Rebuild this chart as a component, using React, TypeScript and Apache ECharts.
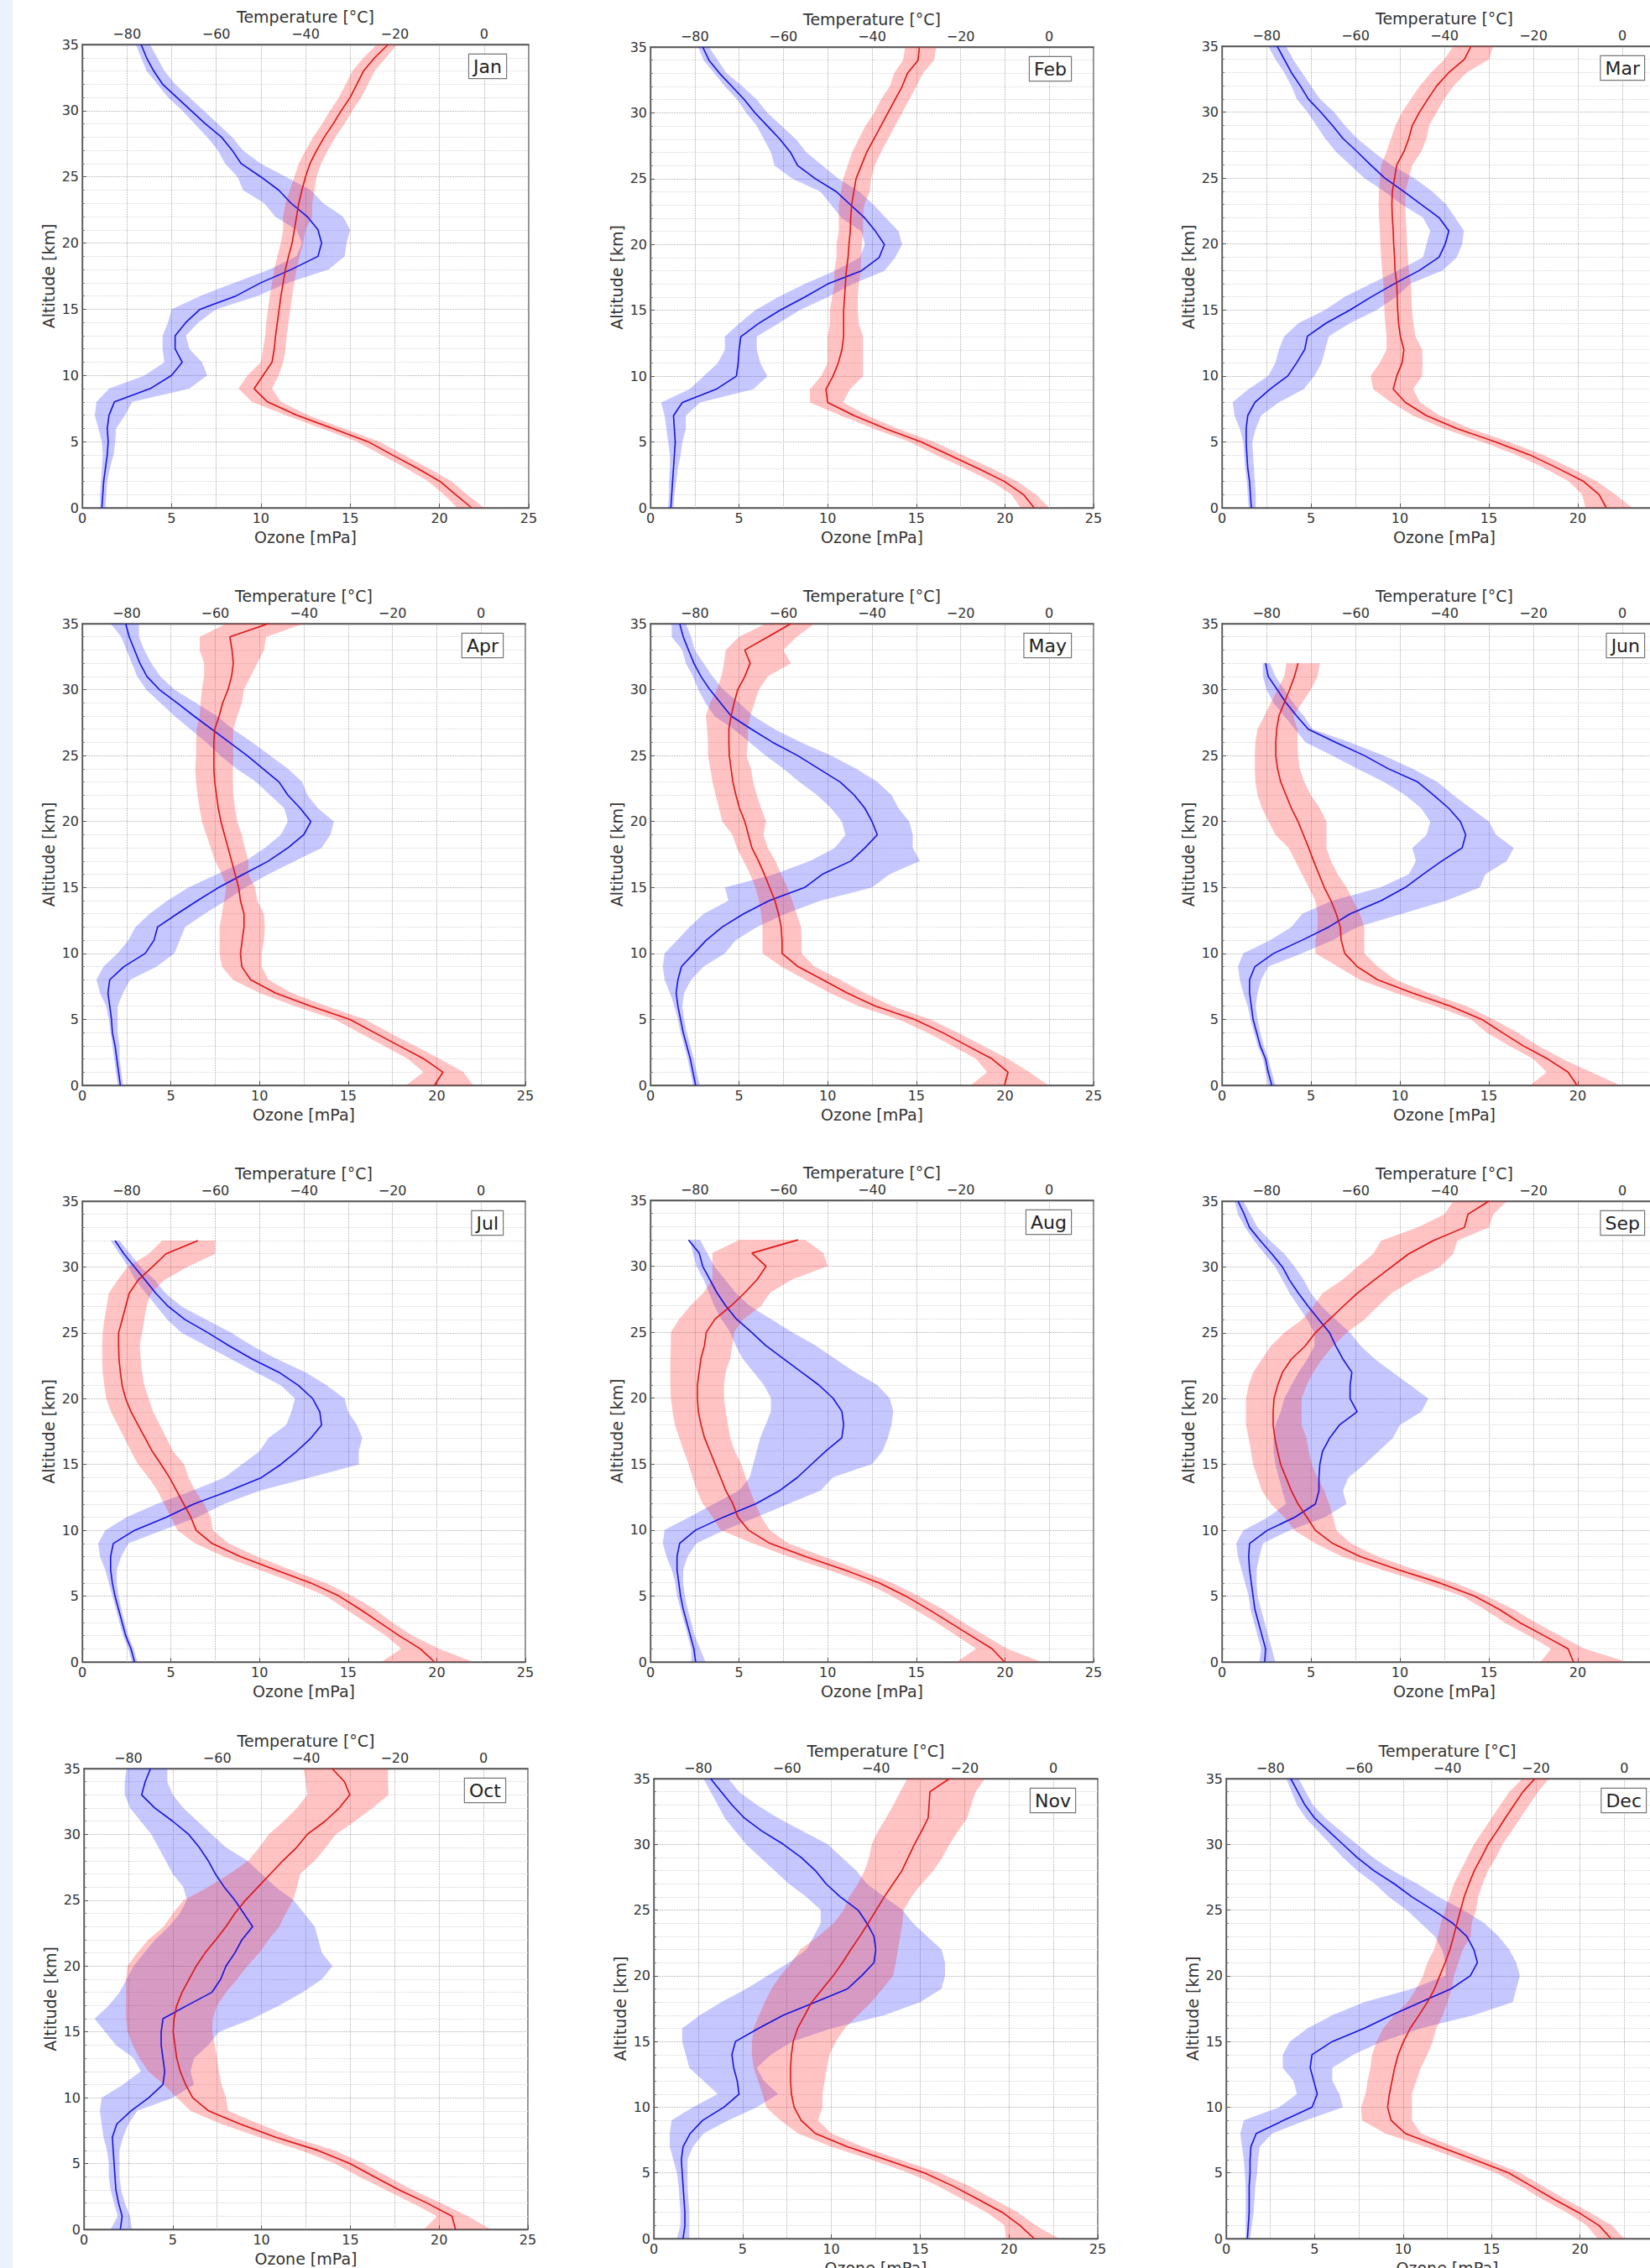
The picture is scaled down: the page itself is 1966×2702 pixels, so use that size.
import React, { useEffect, useRef } from 'react';
import * as echarts from 'echarts';

// Altitude levels [km]
const ALT = [0,1,2,3,4,5,6,7,8,9,10,11,12,13,14,15,16,17,18,19,20,21,22,23,24,25,26,27,28,29,30,31,32,33,34,35];

// Temperature tick labels shown on the top axis
const TEMP_TICKS = [-80,-60,-40,-20,0];

// ---------- JAN ----------
const OZ_MEAN_JAN = [1.1,1.15,1.2,1.3,1.4,1.45,1.4,1.5,1.8,3.8,5.0,5.6,5.2,5.2,5.8,6.6,8.6,10.0,11.7,13.2,13.4,13.2,12.6,11.7,11.0,10.0,8.9,8.4,7.8,6.9,6.1,5.3,4.5,4.0,3.6,3.3];
const OZ_LO_JAN = [1.0,1.0,1.05,1.1,1.15,1.1,0.9,0.7,0.8,1.5,3.5,4.6,4.5,4.5,4.8,5.0,6.6,8.5,10.5,12.0,12.3,12.0,10.8,10.2,9.0,8.7,8.0,7.6,7.0,6.3,5.6,4.8,4.2,3.6,3.3,3.0];
const OZ_HI_JAN = [1.3,1.35,1.4,1.55,1.75,1.85,1.9,2.4,2.8,6.0,7.0,6.7,6.0,5.8,6.5,7.5,9.8,11.5,13.8,14.7,14.8,15.0,14.6,13.5,12.8,11.4,10.0,9.0,8.4,7.6,6.8,6.0,5.2,4.6,4.2,3.8];
const T_MEAN_JAN = [-2.8,-6.4,-9.9,-15,-20.6,-26,-34,-42,-48.5,-51.5,-49.5,-47.5,-47,-46.7,-46.3,-45.9,-45.5,-45,-44.5,-43.8,-43,-42.5,-42,-41.5,-40.8,-40,-39,-37.5,-35.8,-33.8,-32,-30,-28.5,-27,-24.5,-21.5];
const T_LO_JAN = [-6,-9,-12.5,-17.5,-23,-28.5,-36.5,-44.5,-52,-55,-53,-50,-49.5,-49,-48.8,-48.4,-48,-47.5,-47,-46.3,-45.5,-45,-45,-44.5,-43.5,-42.5,-41.5,-40,-38.3,-36.3,-34.5,-32.5,-31,-29.5,-27,-24];
const T_HI_JAN = [0,-3.8,-7.3,-12.5,-18,-23.5,-31.5,-39.5,-45.5,-47.5,-46,-45,-44.5,-44.2,-43.8,-43.4,-43,-42.5,-42,-41.3,-40.5,-40,-38.5,-38.5,-38,-37.5,-36.5,-35,-33.3,-31.3,-29.5,-27.5,-26,-24.5,-22,-19.5];

// ---------- FEB ----------
const OZ_MEAN_FEB = [1.15,1.2,1.25,1.3,1.35,1.4,1.35,1.3,1.8,3.7,4.85,4.95,5.0,5.1,6.1,7.3,8.7,10.0,11.9,12.9,13.2,12.7,12.1,11.3,10.5,9.3,8.3,7.9,7.3,6.6,5.9,5.3,4.6,3.9,3.3,2.95];
const OZ_LO_FEB = [1.0,1.05,1.05,1.1,1.1,1.0,0.9,0.8,0.6,2.2,3.0,3.8,4.2,4.2,5.0,5.9,7.2,8.7,10.4,11.8,12.1,11.9,10.8,10.2,9.6,8.0,7.0,6.8,6.4,6.0,5.4,4.9,4.2,3.6,3.0,2.7];
const OZ_HI_FEB = [1.3,1.35,1.45,1.55,1.7,1.8,2.0,2.0,2.8,5.8,6.6,6.2,6.0,6.0,7.2,8.4,10.0,11.4,13.2,13.8,14.2,14.0,13.3,12.6,11.8,10.6,9.7,8.8,8.2,7.4,6.6,6.0,5.2,4.3,3.8,3.3];
const T_MEAN_FEB = [-3.4,-5.8,-10.1,-16.1,-22.5,-28.9,-36.8,-44,-50,-50.4,-48.8,-47.6,-46.8,-46.4,-46.4,-46.4,-46.2,-46,-45.8,-45.4,-45.2,-44.9,-44.8,-44.6,-44.1,-43.6,-42.4,-41.2,-39.6,-38,-36.4,-34.8,-33.2,-32,-29.6,-29.3];
const T_LO_FEB = [-6.5,-8.5,-13,-19,-25.5,-31.5,-39.5,-47,-54,-54,-51.5,-50,-50,-50,-49.5,-49.5,-49,-48.5,-48.5,-48,-48,-47.5,-47.5,-47.5,-47,-46.5,-45.5,-44.5,-43,-41.5,-39.5,-38,-36,-35,-33,-32.5];
const T_HI_FEB = [0,-3,-7.2,-13,-19.5,-26,-34,-41,-46.5,-45,-42,-42,-42,-42,-43,-43.2,-43.2,-43,-42.5,-42.5,-42.3,-42,-42,-41.8,-40.5,-40.2,-39.4,-38,-36.4,-34.8,-33.2,-31.6,-30,-28.5,-26,-25.5];

// ---------- MAR ----------
const OZ_MEAN_MAR = [1.65,1.6,1.55,1.45,1.4,1.36,1.36,1.45,1.85,2.7,3.7,4.2,4.65,4.8,5.85,7.2,8.4,9.7,11.1,12.2,12.55,12.75,12.2,11.2,10.2,9.15,8.35,7.6,6.8,6.2,5.55,4.85,4.4,3.9,3.5,3.1];
const OZ_LO_MAR = [1.5,1.45,1.4,1.3,1.25,1.2,1.0,0.7,0.6,1.5,2.6,3.0,3.2,3.5,4.3,5.8,6.9,8.4,9.9,11.3,11.5,11.7,11.3,10.1,9.1,8.0,7.2,6.4,5.8,5.3,4.8,4.2,3.9,3.5,3.0,2.6];
const OZ_HI_MAR = [1.9,1.9,1.85,1.8,1.75,1.7,1.9,2.2,3.2,4.6,5.2,5.6,5.8,6.0,7.2,8.7,9.8,10.6,12.4,13.2,13.5,13.6,13.1,12.6,11.8,10.8,9.5,8.5,7.6,6.9,6.3,5.5,5.0,4.5,4.0,3.6];
const T_MEAN_MAR = [-3.6,-5.2,-8.7,-14.5,-20.7,-28.5,-37.1,-44.1,-48.8,-51.5,-50.7,-49.5,-49.1,-49.9,-50.3,-50.5,-50.6,-50.7,-51.1,-51.2,-51.4,-51.5,-51.7,-51.8,-51.7,-51.2,-50.7,-49.1,-48,-47.2,-45.6,-43.7,-41.7,-39,-35.5,-34];
const T_LO_MAR = [-8.3,-9,-12,-17.5,-23.7,-31.5,-40.1,-47.1,-52,-56,-56.6,-54.5,-53,-53,-53.3,-53.5,-53.6,-53.7,-54,-54.2,-54.4,-54.5,-54.7,-54.8,-54.7,-54.5,-54.2,-53,-52,-51,-49.5,-47.5,-45.5,-43,-40,-38];
const T_HI_MAR = [2.2,-1.5,-5.7,-11.5,-17.7,-25.5,-34.1,-41.1,-45.5,-47,-45,-44.9,-45,-46.5,-47,-47.3,-47.4,-47.5,-48,-48.2,-48.4,-48.5,-48.7,-48.8,-48.7,-48,-47.2,-45.2,-44,-43.4,-41.7,-40,-37.9,-35,-30,-29];

// ---------- APR ----------
const OZ_MEAN_APR = [2.15,2.05,1.95,1.85,1.7,1.65,1.55,1.45,1.55,2.35,3.55,4.05,4.25,5.35,6.5,7.7,9.1,10.5,11.6,12.5,12.9,12.3,11.6,11.1,10.2,9.3,8.3,7.3,6.3,5.35,4.35,3.65,3.25,2.95,2.65,2.45];
const OZ_LO_APR = [2.0,1.9,1.8,1.7,1.6,1.5,1.35,1.0,0.8,1.2,2.0,2.6,3.0,3.8,4.8,6.0,7.6,9.2,10.3,11.2,11.6,11.4,10.6,9.8,8.7,7.8,7.0,6.1,5.2,4.4,3.6,3.1,2.8,2.5,2.2,1.6];
const OZ_HI_APR = [2.3,2.2,2.1,2.1,2.0,2.0,2.0,2.3,2.7,4.2,5.2,5.5,5.8,6.9,8.1,9.2,10.5,12.0,13.5,14.0,14.2,13.3,12.7,12.4,11.6,10.6,9.6,8.5,7.6,6.4,5.2,4.4,3.9,3.5,3.2,3.2];
const T_MEAN_APR = [-10.5,-8.6,-12.9,-18.5,-24.1,-29.6,-38.4,-46.4,-52,-54,-54.3,-53.9,-53.5,-53.5,-54.3,-54.7,-55.5,-56.3,-57.1,-57.9,-58.7,-59.3,-59.7,-60.1,-60.3,-60.3,-60.3,-60.1,-59.1,-58.3,-57.1,-56.3,-55.9,-56.2,-56.7,-48];
const T_LO_APR = [-16.9,-13,-16.5,-22,-27.5,-33,-42,-50,-56,-58.5,-59,-59,-59,-58.5,-58,-57.5,-58.5,-60,-61,-62,-63,-63.5,-64,-64.3,-64.5,-64.3,-64.3,-64.2,-63.5,-63.3,-63,-62.5,-62.5,-63.5,-63.5,-57.5];
const T_HI_APR = [-1.8,-4,-9.3,-15,-20.7,-26.2,-34.8,-42.8,-48,-49.5,-49.5,-49,-48.8,-49,-50.5,-51,-52.5,-52.5,-53.3,-54,-55,-55.5,-55.9,-56,-56,-55.9,-56,-55.9,-55,-54,-53.5,-52,-50.5,-49,-48.5,-40];

// ---------- MAY ----------
const OZ_MEAN_MAY = [2.55,2.4,2.25,2.05,1.85,1.7,1.55,1.45,1.55,1.75,2.45,3.15,4.05,5.25,6.7,8.7,9.7,11.3,12.1,12.8,12.5,12.1,11.5,10.7,9.5,8.3,6.9,5.7,4.55,3.95,3.35,2.85,2.45,2.15,1.85,1.65];
const OZ_LO_MAY = [2.4,2.25,2.1,1.9,1.7,1.55,1.35,1.1,0.8,0.7,0.8,1.5,2.2,3.0,4.4,4.2,7.0,9.0,10.4,11.0,10.8,10.2,9.4,8.4,7.5,6.5,5.6,4.7,3.6,3.1,2.7,2.4,2.0,1.8,1.2,1.2];
const OZ_HI_MAY = [2.8,2.6,2.45,2.25,2.05,1.9,1.8,1.9,2.3,3.0,4.2,4.8,6.0,7.6,9.6,12.5,13.5,15.2,14.8,14.8,14.6,14.0,13.6,12.8,11.6,10.2,8.5,7.0,5.8,5.0,4.1,3.5,3.0,2.5,2.3,2.0];
const T_MEAN_MAY = [-10.1,-9.3,-12.9,-18.5,-24.1,-30.4,-39.2,-45.6,-51.1,-56.7,-60.3,-60.3,-60.5,-61.1,-61.9,-63.1,-64.3,-65.6,-67.1,-67.9,-68.7,-69.9,-70.7,-71.4,-71.8,-72.2,-72.3,-72.3,-71.8,-71.1,-70.3,-68.7,-67.5,-68.7,-63.5,-58.3];
const T_LO_MAY = [-17.7,-14,-16.5,-22,-27.5,-34,-43,-49.5,-55,-60.5,-64.7,-64.7,-64.7,-65,-65.5,-66.3,-67.5,-69,-70.5,-71.5,-73.8,-74.5,-75.3,-76,-76.5,-77,-77,-77.2,-77.5,-76.5,-75,-74,-73.4,-73,-70,-64];
const T_HI_MAY = [-0.2,-4.5,-9.3,-15,-20.7,-26.8,-35.4,-41.7,-47.2,-53,-55.9,-55.9,-56,-57,-58,-59.1,-60.5,-61.8,-63.5,-64.5,-63.9,-65,-66,-66.8,-67.3,-68.3,-68,-68,-67.5,-66.5,-65.5,-63.5,-58.3,-60,-57,-53];

// ---------- JUN ----------
const OZ_MEAN_JUN = [2.8,2.6,2.45,2.15,1.95,1.75,1.65,1.55,1.55,1.85,2.9,4.5,6.0,7.2,8.95,10.3,11.3,12.35,13.5,13.7,13.4,12.75,11.9,11.0,9.35,8.0,6.4,4.85,4.2,3.6,3.1,2.6,2.45,null,null,null];
const OZ_LO_JUN = [2.6,2.45,2.3,2.0,1.8,1.6,1.45,1.2,1.0,0.9,1.2,2.7,3.9,4.5,6.2,8.9,10.5,10.9,10.7,11.5,11.7,11.2,10.3,9.1,7.6,6.2,4.7,4.1,3.5,2.9,2.5,2.3,2.3,null,null,null];
const OZ_HI_JUN = [3.0,2.8,2.6,2.35,2.15,2.0,1.9,2.0,2.2,2.6,4.5,6.2,7.6,10.1,12.6,14.5,14.8,16.0,16.4,15.4,15.0,14.0,13.0,12.1,10.7,9.1,7.2,5.1,4.6,4.0,3.5,3.0,2.7,null,null,null];
const T_MEAN_JUN = [-10.2,-12.2,-16.8,-22.3,-27,-31.6,-38.6,-47.2,-55,-59.6,-62.4,-63.2,-63.4,-64.3,-65.5,-67,-68.2,-69.4,-70.5,-71.7,-72.9,-74.4,-75.6,-76.8,-77.5,-77.9,-77.9,-77.7,-77.2,-76,-74.8,-73.7,-72.9,null,null,null];
const T_LO_JUN = [-20.7,-17,-20,-25.5,-30.5,-34,-42,-51,-59,-64,-69,-69,-68.5,-68.5,-69,-70.5,-72,-73.5,-75,-78,-79.5,-81,-82,-82.5,-82.6,-82.6,-82.5,-82,-80.5,-79,-77.5,-76,-75.5,null,null,null];
const T_HI_JUN = [-0.5,-7,-13.5,-19,-23.5,-29,-35,-43.5,-51,-55,-58,-58,-58,-59,-60.5,-62,-64,-65.5,-66.5,-66.5,-66.5,-68,-70,-71.5,-72.5,-72.9,-73,-73,-74,-72,-70,-68.5,-68,null,null,null];

// ---------- JUL ----------
const OZ_MEAN_JUL = [2.95,2.75,2.45,2.25,2.05,1.85,1.7,1.6,1.6,1.75,2.95,4.75,6.3,8.3,10.1,11.2,12.1,12.9,13.5,13.4,13.0,12.2,11.1,9.6,8.3,7.1,5.8,4.85,4.15,3.55,2.95,2.35,1.85,null,null,null];
const OZ_LO_JUL = [2.8,2.6,2.3,2.1,1.9,1.7,1.5,1.3,1.0,0.9,1.3,2.5,4.2,6.2,8.0,9.0,10.0,10.5,11.5,11.8,12.0,11.2,9.8,8.4,7.0,5.6,4.8,4.2,3.6,3.0,2.6,2.1,1.6,null,null,null];
const OZ_HI_JUL = [3.1,2.9,2.6,2.4,2.2,2.05,1.95,1.95,2.2,2.6,4.5,6.5,8.0,10.0,12.8,15.6,15.6,15.8,15.5,15.0,14.8,13.8,12.6,11.0,9.6,8.4,7.0,5.6,4.7,4.1,3.3,2.7,2.1,null,null,null];
const T_MEAN_JUL = [-10.5,-13.7,-18.5,-22.9,-27.3,-32,-38.4,-46.4,-54.3,-60.7,-64.3,-65.5,-67.1,-68.7,-70.3,-72.2,-74.2,-75.8,-77.4,-79,-80.2,-81,-81.4,-81.7,-81.8,-81.8,-81,-80.2,-79.4,-77.4,-74.2,-71.1,-63.9,null,null,null];
const T_LO_JUL = [-22.5,-18,-21.5,-26,-30.5,-35,-42,-50,-58,-64.5,-68.5,-70,-71.5,-73,-75,-77.4,-79,-80.5,-82,-83.5,-84.6,-85,-85.4,-85.5,-85.5,-85.4,-85,-84.5,-84,-82,-79.8,-75,-72,null,null,null];
const T_HI_JUL = [-1.8,-9.5,-15.5,-20,-24,-29,-35,-43,-50.5,-57,-60.5,-61,-62.5,-64.5,-66,-67,-69.5,-71,-72.5,-74,-75,-76,-76.5,-76.8,-77,-76.5,-76,-75.5,-74.5,-71.5,-66.3,-60,-60,null,null,null];

// ---------- AUG ----------
const OZ_MEAN_AUG = [2.55,2.45,2.25,2.05,1.85,1.7,1.6,1.5,1.5,1.65,2.55,4.15,5.95,7.3,8.3,9.1,9.9,10.8,10.9,10.8,10.3,9.5,8.5,7.5,6.5,5.7,4.85,4.25,3.75,3.35,2.95,2.75,2.15,null,null,null];
const OZ_LO_AUG = [2.3,2.3,2.1,1.9,1.7,1.5,1.4,1.2,0.9,0.7,0.8,2.2,3.6,5.0,5.6,5.8,6.0,6.2,6.5,6.8,6.8,6.4,5.8,5.2,4.8,4.5,4.0,3.6,3.3,3.0,2.6,2.4,2.2,null,null,null];
const OZ_HI_AUG = [3.1,2.8,2.5,2.3,2.1,1.95,1.85,1.85,2.1,2.6,4.2,6.0,7.8,9.6,10.3,12.5,13.1,13.4,13.6,13.7,13.5,12.8,11.5,10.4,9.3,8.0,6.8,5.6,4.8,4.2,3.6,3.2,2.8,null,null,null];
const T_MEAN_AUG = [-10.1,-12.9,-17.7,-22.5,-27.3,-32.4,-38.4,-46.4,-55.1,-63.1,-67.9,-70.3,-71.4,-73,-74.2,-75.4,-76.6,-77.8,-78.6,-79.2,-79.4,-79.4,-79,-78.6,-77.8,-77.4,-75.4,-71.8,-68.7,-65.9,-63.9,-67.1,-56.7,null,null,null];
const T_LO_AUG = [-20.9,-16.5,-21,-25.5,-30.5,-35.5,-41.5,-50,-59,-67,-74.2,-76,-78.2,-79.5,-80.5,-81.4,-82.5,-83.5,-84.5,-85,-85.4,-85.5,-85.5,-85.5,-85.4,-85.4,-83.5,-81,-78,-76,-76,-76,-70,null,null,null];
const T_HI_AUG = [-1.8,-9.5,-14.5,-19.5,-24,-29.5,-35.5,-43,-51,-59,-63.1,-65,-66.3,-67.5,-68.5,-69.5,-71,-72,-72.5,-73,-73.4,-73.4,-73,-72,-71.5,-71.1,-69,-65,-63,-58,-50,-51,-55,null,null,null];

// ---------- SEP ----------
const OZ_MEAN_SEP = [2.4,2.45,2.25,2.05,1.85,1.75,1.65,1.55,1.5,1.55,2.55,4.1,5.25,5.45,5.45,5.5,5.65,6.05,6.6,7.6,7.2,7.2,7.3,6.8,6.4,6.05,5.45,4.85,4.3,3.8,3.4,2.8,2.15,1.55,1.25,0.9];
const OZ_LO_SEP = [2.1,2.2,2.0,1.8,1.6,1.5,1.3,1.1,0.9,0.8,1.2,2.6,3.6,3.4,3.2,3.0,2.9,2.9,3.0,3.3,3.5,3.9,4.3,4.8,5.2,5.2,4.8,4.3,3.8,3.4,3.0,2.4,1.8,1.3,0.9,0.7];
const OZ_HI_SEP = [3.0,2.8,2.6,2.4,2.2,2.0,1.95,1.95,2.1,2.3,3.8,5.8,7.0,6.8,7.1,8.0,8.8,9.6,10.0,11.2,11.6,10.6,9.6,8.6,7.8,7.2,6.4,5.6,5.0,4.6,4.1,3.5,2.7,2.0,1.6,1.2];
const T_MEAN_SEP = [-11,-12.2,-17.6,-23.1,-27.7,-33.2,-41,-50.3,-58.9,-65.1,-69,-70.9,-72.9,-74.4,-75.6,-76.8,-77.5,-78.1,-78.5,-78.5,-78.3,-77.5,-76.4,-74.4,-71.3,-69,-65.9,-62.8,-59.6,-55.8,-51.9,-48,-42.5,-35.5,-34.7,-30];
const T_LO_SEP = [-18.4,-16,-21,-26.5,-31,-36,-44.5,-54,-63,-69,-73.7,-76,-79,-81,-82,-83,-83.5,-84,-84.6,-84.6,-84.6,-84,-83,-81,-79,-76,-72,-69.5,-67.4,-63,-59.6,-56,-54.2,-46,-40,-38];
const T_HI_SEP = [1,-8.5,-14,-19.5,-24.5,-30.5,-37.5,-46.5,-55,-61,-64.3,-65,-65.9,-67,-68.5,-69.8,-70.5,-71,-72.1,-72.1,-72.1,-71,-69.5,-67.5,-65,-62,-58,-55,-51.9,-47,-41,-38,-37.1,-30,-29,-26];

// ---------- OCT ----------
const OZ_MEAN_OCT = [2.05,2.15,1.95,1.8,1.75,1.7,1.65,1.6,1.85,2.65,3.65,4.45,4.55,4.45,4.35,4.35,4.45,5.8,7.2,7.7,8.0,8.5,8.9,9.5,9.0,8.5,7.9,7.4,7.0,6.5,5.9,5.0,4.0,3.25,3.45,3.75];
const OZ_LO_OCT = [1.5,1.9,1.7,1.5,1.4,1.4,1.3,1.1,1.0,0.9,1.0,2.2,3.2,2.8,1.8,1.2,0.6,1.4,2.0,2.4,2.8,3.4,4.0,4.8,5.4,5.8,5.6,5.0,4.6,4.2,3.8,3.2,2.6,2.3,2.3,2.4];
const OZ_HI_OCT = [2.7,2.6,2.3,2.1,2.0,2.0,2.0,2.2,2.5,3.0,5.0,6.2,6.0,6.2,7.0,7.6,9.5,11.0,12.3,13.4,14.0,13.4,13.2,13.0,12.4,11.8,10.8,10.0,9.2,8.0,7.2,6.4,5.6,5.0,4.7,4.7];
const T_MEAN_OCT = [-6.3,-7.1,-12.7,-19,-24.6,-30.1,-37.3,-46.8,-54.8,-61.9,-65.5,-67.1,-68.3,-69.1,-69.5,-69.9,-69.7,-69.1,-67.9,-66.3,-64.7,-62.7,-60.3,-58,-56,-53.6,-50.8,-48,-45.2,-42.1,-39.7,-35.7,-32.5,-30.1,-31.3,-34.1];
const T_LO_OCT = [-13.4,-10.5,-16,-22,-28,-33.5,-41,-50.5,-59,-66,-69,-72,-75.5,-77.5,-79,-80.2,-80.5,-80.5,-80.5,-80.5,-80.2,-78,-75.5,-72,-70,-67.5,-62,-57.2,-53,-50.5,-48.4,-45,-42,-39.7,-40,-40.5];
const T_HI_OCT = [1.6,-3.5,-9.5,-16,-21.5,-27,-33.5,-43,-50.5,-57.5,-58,-59,-59.6,-60,-60.5,-61.1,-61,-60,-58,-55.5,-53.2,-50.5,-48.4,-46,-44.5,-42.9,-42,-41.3,-38,-35.5,-33.3,-29,-25,-21.4,-21.5,-21.5];

// ---------- NOV ----------
const OZ_MEAN_NOV = [1.65,1.75,1.75,1.7,1.65,1.6,1.55,1.65,2.05,2.75,3.95,4.8,4.7,4.5,4.4,4.6,5.9,7.3,9.1,10.9,11.7,12.4,12.5,12.4,12.0,11.5,10.5,9.7,9.1,8.3,7.3,6.1,5.1,4.4,3.8,3.2];
const OZ_LO_NOV = [1.3,1.5,1.5,1.45,1.4,1.3,1.1,0.9,0.9,1.0,2.2,3.6,2.8,2.0,1.8,1.6,1.6,2.6,3.8,5.2,6.4,7.6,8.6,9.0,9.4,9.4,8.6,7.6,6.8,6.0,5.2,4.6,4.0,3.6,3.2,2.8];
const OZ_HI_NOV = [2.0,2.0,2.0,1.95,1.9,1.9,1.9,2.2,2.8,4.2,5.8,7.0,6.2,5.8,6.6,7.8,10.0,13.0,15.0,16.2,16.4,16.4,16.2,15.4,14.6,14.0,13.0,12.0,11.4,10.6,9.8,8.4,7.0,5.8,4.8,4.2];
const T_MEAN_NOV = [-4.3,-7.5,-11.5,-17,-22.6,-29,-37.7,-46.4,-53.6,-56.8,-58.4,-59,-59.2,-59.2,-59,-58.6,-57.6,-56,-54.4,-52,-49.6,-47.5,-45.6,-43.6,-41.7,-39.9,-38.1,-36.1,-34.1,-32.7,-31.3,-29.7,-28.2,-28,-27.8,-23.4];
const T_LO_NOV = [-10.7,-11,-15,-20.5,-26,-32.5,-41,-50,-57.5,-61.5,-64.7,-65.5,-66.5,-67.5,-67.9,-67.9,-67.5,-66.3,-65,-63.5,-61.5,-59,-57,-53,-49.5,-47.2,-46,-44,-42.5,-41.5,-40.9,-39.5,-37.7,-36,-34.5,-32.9];
const T_HI_NOV = [1.3,-4,-8,-13.5,-19,-25.5,-34.5,-43,-50,-53,-52,-52,-51.5,-51,-50.4,-49,-47,-44,-41,-38.5,-36.1,-35.5,-35,-34.5,-34,-33.7,-32,-29.7,-27,-25,-23.4,-21.5,-19.4,-18.5,-17.5,-15.4];

// ---------- DEC ----------
const OZ_MEAN_DEC = [1.2,1.25,1.3,1.3,1.3,1.35,1.35,1.4,1.7,3.25,4.85,5.15,4.95,4.75,4.85,6.0,7.8,9.35,11.0,12.7,13.8,14.2,14.0,13.6,12.8,11.7,10.5,9.5,8.35,7.4,6.6,5.8,5.0,4.45,4.05,3.65];
const OZ_LO_DEC = [1.1,1.1,1.1,1.1,1.1,1.05,1.0,0.9,0.8,1.0,3.0,4.0,3.8,3.2,3.2,3.6,4.6,6.0,7.8,10.5,12.4,12.4,12.2,11.8,11.0,10.2,9.2,8.4,7.4,6.6,5.9,5.2,4.5,4.0,3.7,3.4];
const OZ_HI_DEC = [1.35,1.45,1.55,1.6,1.65,1.75,1.8,1.9,2.6,4.5,6.6,6.4,6.0,6.0,7.2,8.8,11.0,14.0,16.2,16.4,16.6,16.4,16.0,15.4,14.6,13.4,12.0,10.8,9.4,8.3,7.4,6.5,5.6,4.9,4.5,4.1];
const T_MEAN_DEC = [-3,-5.7,-10.4,-15.9,-21,-26.1,-33.9,-41.7,-49.5,-52.7,-53.5,-53.1,-52.5,-51.9,-51.1,-49.9,-48.4,-46.4,-44.5,-42.9,-41.7,-40.5,-39.4,-38.6,-37.8,-37,-36.2,-35.1,-33.9,-32.3,-30.8,-28.8,-26.9,-24.9,-22.9,-20.2];
const T_LO_DEC = [-6,-8.5,-13,-18.5,-23.5,-29,-37,-45,-54,-59.3,-59.5,-58.5,-58,-57.4,-57,-56,-54.5,-52,-49,-47,-45.5,-44.5,-43,-42.1,-41.5,-40.5,-39.5,-38.5,-37,-35.5,-34,-32,-30,-28,-26,-23];
const T_HI_DEC = [0,-2.8,-7.8,-13.3,-18.5,-23.5,-31,-38.5,-46,-48,-48,-48,-47,-46,-44.5,-43.3,-42.5,-41,-40,-39,-38.5,-37.5,-36.5,-34.7,-34.5,-33.5,-33,-32,-30.8,-29,-27.5,-25.5,-23.5,-21.5,-19.5,-17];

const MONTHS = ['Jan','Feb','Mar','Apr','May','Jun','Jul','Aug','Sep','Oct','Nov','Dec'];

const PANELS = [
  [OZ_MEAN_JAN, OZ_LO_JAN, OZ_HI_JAN, T_MEAN_JAN, T_LO_JAN, T_HI_JAN],
  [OZ_MEAN_FEB, OZ_LO_FEB, OZ_HI_FEB, T_MEAN_FEB, T_LO_FEB, T_HI_FEB],
  [OZ_MEAN_MAR, OZ_LO_MAR, OZ_HI_MAR, T_MEAN_MAR, T_LO_MAR, T_HI_MAR],
  [OZ_MEAN_APR, OZ_LO_APR, OZ_HI_APR, T_MEAN_APR, T_LO_APR, T_HI_APR],
  [OZ_MEAN_MAY, OZ_LO_MAY, OZ_HI_MAY, T_MEAN_MAY, T_LO_MAY, T_HI_MAY],
  [OZ_MEAN_JUN, OZ_LO_JUN, OZ_HI_JUN, T_MEAN_JUN, T_LO_JUN, T_HI_JUN],
  [OZ_MEAN_JUL, OZ_LO_JUL, OZ_HI_JUL, T_MEAN_JUL, T_LO_JUL, T_HI_JUL],
  [OZ_MEAN_AUG, OZ_LO_AUG, OZ_HI_AUG, T_MEAN_AUG, T_LO_AUG, T_HI_AUG],
  [OZ_MEAN_SEP, OZ_LO_SEP, OZ_HI_SEP, T_MEAN_SEP, T_LO_SEP, T_HI_SEP],
  [OZ_MEAN_OCT, OZ_LO_OCT, OZ_HI_OCT, T_MEAN_OCT, T_LO_OCT, T_HI_OCT],
  [OZ_MEAN_NOV, OZ_LO_NOV, OZ_HI_NOV, T_MEAN_NOV, T_LO_NOV, T_HI_NOV],
  [OZ_MEAN_DEC, OZ_LO_DEC, OZ_HI_DEC, T_MEAN_DEC, T_LO_DEC, T_HI_DEC],
];

// Layout of each plot area: [left, top, width, height] in px
const LAYOUT = [
  [98, 53, 532, 552], [775, 56, 528, 549], [1456, 55, 530, 550],
  [98, 743, 528, 550], [775, 743, 528, 550], [1456, 743, 530, 550],
  [98, 1431, 528, 549], [775, 1430, 528, 550], [1456, 1431, 530, 549],
  [100, 2107, 529, 549], [779, 2119, 529, 548], [1461, 2119, 527, 548],
];

const FONT = '"DejaVu Sans", sans-serif';
const W = 1966;
const H = 2702;

const fmtNum = (v: number) => (v < 0 ? '\u2212' + Math.abs(v) : String(v));

function bandSeries(lo: any[], hi: any[], xi: number, yi: number, color: string) {
  const data: number[][] = [];
  ALT.forEach((a, i) => {
    if (lo[i] != null && hi[i] != null) data.push([lo[i], a, hi[i]]);
  });
  return {
    type: 'custom',
    coordinateSystem: 'cartesian2d',
    xAxisIndex: xi,
    yAxisIndex: yi,
    silent: true,
    clip: true,
    z: 2,
    data,
    encode: { x: [0, 2], y: 1 },
    renderItem: (params: any, api: any) => {
      if (params.dataIndex !== 0) return null;
      const pts: number[][] = [];
      for (let i = 0; i < data.length; i++) pts.push(api.coord([data[i][0], data[i][1]]));
      for (let i = data.length - 1; i >= 0; i--) pts.push(api.coord([data[i][2], data[i][1]]));
      return { type: 'polygon', shape: { points: pts }, style: { fill: color } };
    },
  };
}

function lineSeries(vals: any[], xi: number, yi: number, color: string) {
  const data: number[][] = [];
  ALT.forEach((a, i) => {
    if (vals[i] != null) data.push([vals[i], a]);
  });
  return {
    type: 'line',
    xAxisIndex: xi,
    yAxisIndex: yi,
    data,
    symbol: 'none',
    showSymbol: false,
    silent: true,
    clip: true,
    z: 4,
    lineStyle: { color, width: 1.6 },
  };
}

function buildOption() {
  const grid: any[] = [];
  const xAxis: any[] = [];
  const yAxis: any[] = [];
  const series: any[] = [];
  const graphic: any[] = [
    { type: 'rect', shape: { x: 0, y: 0, width: 15, height: H }, style: { fill: '#eaf3fc' }, silent: true, z: -10 },
  ];
  const labelStyle = { fontSize: 16, color: '#333', fontFamily: FONT };
  const nameStyle = { fontSize: 19, color: '#333', fontFamily: FONT };
  const majorGrid = { show: true, lineStyle: { color: '#b0b0b0', type: 'dotted', width: 1 } };

  PANELS.forEach((p, i) => {
    const [l, t, w, h] = LAYOUT[i];
    const [ozM, ozLo, ozHi, tM, tLo, tHi] = p;
    grid.push({
      left: l, top: t, width: w, height: h,
      show: true, borderColor: '#555', borderWidth: 1.3, backgroundColor: 'rgba(0,0,0,0)',
      containLabel: false, outerBoundsMode: 'none',
    });
    // ozone axis (bottom)
    xAxis.push({
      type: 'value', gridIndex: i, position: 'bottom', min: 0, max: 25, interval: 5,
      name: 'Ozone [mPa]', nameLocation: 'middle', nameGap: 25, nameTextStyle: nameStyle,
      axisLine: { show: true, onZero: false, lineStyle: { color: '#555', width: 1.3 } },
      axisTick: { show: true, inside: true, length: 5, lineStyle: { color: '#555' } },
      axisLabel: { ...labelStyle, margin: 4 },
      splitLine: { show: false },
    });
    // temperature axis (top)
    xAxis.push({
      type: 'value', gridIndex: i, position: 'top', min: -90, max: 10, interval: 10,
      name: 'Temperature [\u00B0C]', nameLocation: 'middle', nameGap: 24, nameTextStyle: nameStyle,
      axisLine: { show: true, onZero: false, lineStyle: { color: '#555', width: 1.3 } },
      axisTick: { show: false },
      axisLabel: {
        ...labelStyle, margin: 5,
        formatter: (v: number) => (TEMP_TICKS.indexOf(v) >= 0 ? fmtNum(v) : ''),
      },
      splitLine: majorGrid,
    });
    yAxis.push({
      type: 'value', gridIndex: i, min: 0, max: 35, interval: 5,
      name: 'Altitude [km]', nameLocation: 'middle', nameGap: 31, nameTextStyle: nameStyle,
      axisLine: { show: true, onZero: false, lineStyle: { color: '#555', width: 1.3 } },
      axisTick: { show: true, inside: true, length: 5, lineStyle: { color: '#555' } },
      minorTick: { show: true, splitNumber: 5, length: 3, lineStyle: { color: '#777' } },
      axisLabel: { ...labelStyle, margin: 4 },
      splitLine: majorGrid,
      minorSplitLine: { show: true, lineStyle: { color: '#d6d6d6', type: 'dotted', width: 1 } },
    });
    series.push(bandSeries(ozLo, ozHi, 2 * i, i, 'rgba(40,40,255,0.26)'));
    series.push(bandSeries(tLo, tHi, 2 * i + 1, i, 'rgba(255,40,40,0.28)'));
    series.push(lineSeries(ozM, 2 * i, i, '#1414e0'));
    series.push(lineSeries(tM, 2 * i + 1, i, '#e01414'));
    graphic.push({
      type: 'text',
      x: l + w - 27,
      y: t + 12,
      z: 100,
      silent: true,
      style: {
        text: MONTHS[i],
        font: '22px "DejaVu Sans", sans-serif',
        fill: '#222',
        align: 'right',
        verticalAlign: 'top',
        backgroundColor: '#ffffff',
        borderColor: '#777',
        borderWidth: 1.2,
        padding: [3, 5, 3, 5],
      },
    });
  });

  return {
    animation: false,
    backgroundColor: '#ffffff',
    textStyle: { fontFamily: FONT },
    grid,
    xAxis,
    yAxis,
    series,
    graphic,
  };
}

export default function App() {
  const ref = useRef<HTMLDivElement>(null);
  useEffect(() => {
    document.body.style.margin = '0';
    document.body.style.overflow = 'hidden';
    if (!ref.current) return;
    const chart = echarts.init(ref.current, undefined, { renderer: 'svg', width: W, height: H });
    chart.setOption(buildOption() as any);
    return () => chart.dispose();
  }, []);
  return (
    <div
      ref={ref}
      style={{ position: 'absolute', left: 0, top: 0, width: W, height: H, overflow: 'hidden', background: '#fff' }}
    />
  );
}
